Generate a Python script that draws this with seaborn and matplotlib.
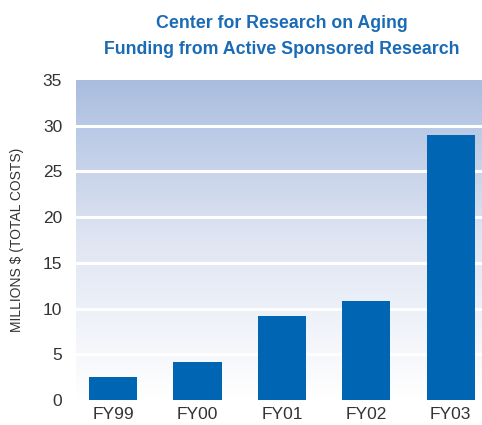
import matplotlib
matplotlib.use("Agg")

import matplotlib.pyplot as plt
import seaborn as sns
import numpy as np
import pandas as pd
from matplotlib.colors import LinearSegmentedColormap

# Data
years = ["FY99", "FY00", "FY01", "FY02", "FY03"]
funding = [2.5, 4.15, 9.2, 10.8, 29.0]
y_ticks = [0, 5, 10, 15, 20, 25, 30, 35]


def main():
    sns.set_theme(style="white")
    plt.rcParams["font.family"] = ["Liberation Sans", "DejaVu Sans"]

    df = pd.DataFrame({"year": years, "funding": funding})

    fig = plt.figure(figsize=(4.82, 4.25), dpi=100)
    ax = fig.add_axes([76 / 482, 25 / 425, 406 / 482, 320 / 425])

    # Background gradient: light blue at top fading to white
    cmap = LinearSegmentedColormap.from_list("bg", ["#ffffff", "#dfe5f2", "#aabde0"])
    grad = np.linspace(0, 1, 256).reshape(-1, 1)
    ax.imshow(grad, aspect="auto", cmap=cmap, origin="lower",
              extent=[-0.44, 4.37, 0, 35], zorder=0)

    for t in y_ticks[1:-1]:
        ax.axhline(t, color="white", lw=2.2, zorder=1)

    sns.barplot(data=df, x="year", y="funding", color="#0066b3",
                saturation=1, width=0.57, linewidth=0, ax=ax, zorder=2)

    ax.set_xlim(-0.44, 4.37)
    ax.set_ylim(0, 35)
    ax.set_yticks(y_ticks)
    ax.tick_params(axis="y", length=0, pad=10, labelsize=12.5, labelcolor="#333333")
    ax.tick_params(axis="x", length=0, pad=5, labelsize=12.5, labelcolor="#333333")
    for s in ax.spines.values():
        s.set_visible(False)
    ax.set_xlabel("")
    ax.set_ylabel("MILLIONS $ (TOTAL COSTS)", fontsize=10, color="#333333")
    ax.yaxis.set_label_coords(-0.128, 0.5)

    title_kw = dict(ha="center", va="center", fontsize=12.8, fontweight="bold",
                    color="#1a6bb5")
    fig.text(282 / 482, 1 - 23 / 425, "Center for Research on Aging", **title_kw)
    fig.text(282 / 482, 1 - 49 / 425, "Funding from Active Sponsored Research",
             **title_kw)

    fig.savefig("out.png", dpi=100)
    plt.close(fig)


if __name__ == "__main__":
    main()
